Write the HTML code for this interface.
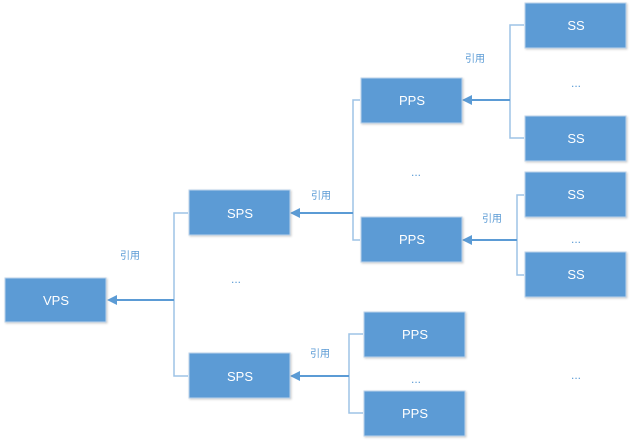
<!DOCTYPE html>
<html><head><meta charset="utf-8"><style>
html,body{margin:0;padding:0;background:#fff;width:633px;height:445px;overflow:hidden}
svg text{font-family:"Liberation Sans","Noto Sans CJK SC",sans-serif}
</style></head><body>
<svg width="633" height="445" viewBox="0 0 633 445" xmlns="http://www.w3.org/2000/svg">
<defs><filter id="s" x="-10%" y="-10%" width="130%" height="130%"><feDropShadow dx="1" dy="1" stdDeviation="1" flood-color="#000" flood-opacity="0.2"/></filter></defs>
<g stroke="#9dc3e6" stroke-width="1.5" fill="none">
<polyline points="188,213 174,213 174,376 188,376"/>
<polyline points="360,100 353,100 353,240 360,240"/>
<polyline points="524,25 510,25 510,138 524,138"/>
<polyline points="524,195 517,195 517,275 524,275"/>
<polyline points="363,334 349,334 349,413 363,413"/>
</g>
<g stroke="#5b9bd5" stroke-width="2">
<line x1="174" y1="300" x2="116" y2="300"/>
<line x1="353" y1="213" x2="298" y2="213"/>
<line x1="510" y1="100" x2="470" y2="100"/>
<line x1="517" y1="240" x2="470" y2="240"/>
<line x1="349" y1="376" x2="298" y2="376"/>
</g>
<g fill="#5b9bd5">
<polygon points="107,300 117,295 117,305"/>
<polygon points="290,213 300,208 300,218"/>
<polygon points="462,100 472,95 472,105"/>
<polygon points="462,240 472,235 472,245"/>
<polygon points="290,376 300,371 300,381"/>
</g>
<g fill="#5b9bd5" stroke="#bcd3ea" stroke-width="1" filter="url(#s)">
<rect x="5" y="278" width="101" height="44"/>
<rect x="189" y="190" width="101" height="45"/>
<rect x="189" y="353" width="101" height="45"/>
<rect x="361" y="78" width="101" height="45"/>
<rect x="361" y="217" width="101" height="45"/>
<rect x="364" y="312" width="101" height="45"/>
<rect x="364" y="391" width="101" height="45"/>
<rect x="525" y="3" width="101" height="45"/>
<rect x="525" y="116" width="101" height="45"/>
<rect x="525" y="172" width="101" height="45"/>
<rect x="525" y="252" width="101" height="45"/>
</g>
<g fill="#fff" font-size="13" text-anchor="middle">
<text x="56" y="305">VPS</text>
<text x="240" y="218">SPS</text>
<text x="240" y="381">SPS</text>
<text x="412" y="105">PPS</text>
<text x="412" y="244">PPS</text>
<text x="415" y="339">PPS</text>
<text x="415" y="418">PPS</text>
<text x="576" y="30">SS</text>
<text x="576" y="143">SS</text>
<text x="576" y="199">SS</text>
<text x="576" y="279">SS</text>
</g>
<g fill="#5b9bd5" font-size="10" text-anchor="middle">
<text x="130" y="259">引用</text>
<text x="321" y="199">引用</text>
<text x="475" y="62">引用</text>
<text x="492" y="222">引用</text>
<text x="320" y="357">引用</text>
</g>
<g fill="#5b9bd5" font-size="12" text-anchor="middle">
<text x="236" y="283">...</text>
<text x="416" y="176">...</text>
<text x="576" y="87">...</text>
<text x="576" y="243">...</text>
<text x="416" y="383">...</text>
<text x="576" y="379">...</text>
</g>
</svg>
</body></html>
